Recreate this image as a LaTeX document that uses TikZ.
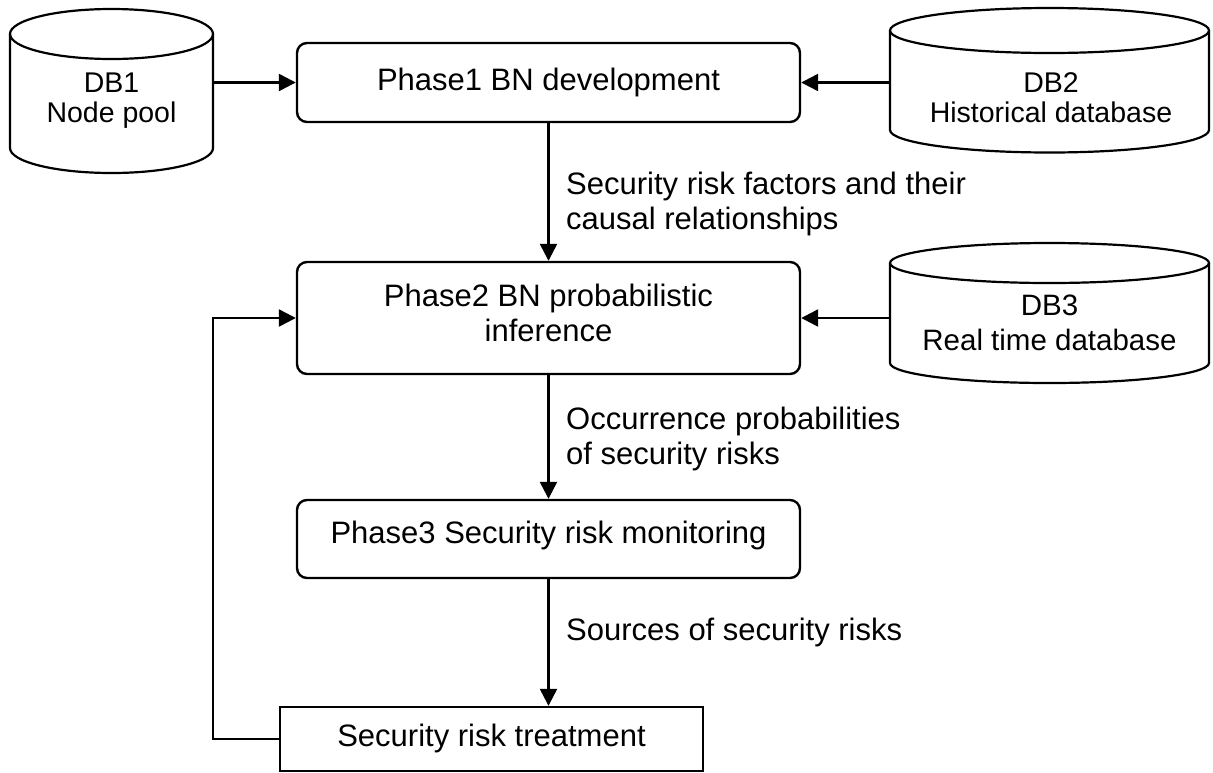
\documentclass[tikz,border=0pt]{standalone}
\usepackage{fontspec}
\setmainfont{Liberation Sans}
\usetikzlibrary{arrows.meta}
\begin{document}
\begin{tikzpicture}[x=1pt,y=1pt,
  phasebox/.style={draw, line width=2.4pt, rounded corners=10pt, inner sep=0pt},
  plainbox/.style={draw, line width=2.4pt, inner sep=0pt},
  holder/.style={inner sep=0pt},
  txt/.style={font=\fontsize{31}{36}\selectfont, inner sep=0pt},
  dbtxt/.style={font=\fontsize{#1}{34}\selectfont, inner sep=0pt, anchor=base},
  arr/.style={line width=2.4pt, -{Triangle[length=17pt,width=17pt]}},
  cylline/.style={line width=2.2pt}]
% canvas
\fill[white] (0,0) rectangle (1213,-772);
\useasboundingbox (0,0) rectangle (1213,-772);

% database cylinders: side walls with lower half-ellipse, then the top ellipse
\newcommand{\dbcyl}[5]{% cx, top-centre y, bottom-centre y, rx, ry
  \draw[cylline] ({#1-#4},{-#2}) -- ({#1-#4},{-#3})
     arc[start angle=180, end angle=360, x radius=#4pt, y radius=#5pt]
     -- ({#1+#4},{-#2});
  \draw[cylline] (#1,-#2) ellipse [x radius=#4pt, y radius=#5pt];}
\dbcyl{111.5}{34}{148}{101.5}{25}
\dbcyl{1049.5}{30.5}{130}{159.5}{22.5}
\dbcyl{1049.5}{263}{363}{159.5}{20}

% cylinder footprints used as connector ends
\node[holder, minimum width=203pt, minimum height=164pt] (db1) at (111.5,-90) {};
\node[holder, minimum width=319pt, minimum height=145pt] (db2) at (1049.5,-80.5) {};
\node[holder, minimum width=319pt, minimum height=140pt] (db3) at (1049.5,-313) {};

% cylinder texts
\node[dbtxt=28.5] (db1a) at (111.5,-92) {DB1};
\node[dbtxt=28.5] (db1b) at (111.5,-122) {Node pool};
\node[dbtxt=28.5] (db2a) at (1051,-92) {DB2};
\node[dbtxt=28.5] (db2b) at (1051,-122) {Historical database};
\node[dbtxt=29.5] (db3a) at (1049.5,-315) {DB3};
\node[dbtxt=29.5] (db3b) at (1049.5,-350) {Real time database};

% phase boxes
\node[phasebox, minimum width=503pt, minimum height=79pt] (p1) at (548.5,-82.5) {};
\node[phasebox, minimum width=503pt, minimum height=112pt] (p2) at (548.5,-318) {};
\node[phasebox, minimum width=503pt, minimum height=78pt] (p3) at (548.5,-539) {};
\node[plainbox, minimum width=423pt, minimum height=64pt] (tr) at (491.5,-739) {};

\node[txt, anchor=base] (p1t) at (548.5,-90) {Phase1 BN development};
\node[txt, anchor=base] (p2t) at (548.5,-306) {Phase2 BN probabilistic};
\node[txt, anchor=base] (p2u) at (548.5,-341) {inference};
\node[txt, anchor=base] (p3t) at (548.5,-543) {Phase3 Security risk monitoring};
\node[txt, anchor=base] (trt) at (491.5,-746) {Security risk treatment};

% connector labels
\node[txt, anchor=base west] (l1a) at (566,-194) {Security risk factors and their};
\node[txt, anchor=base west] (l1b) at (566,-229) {causal relationships};
\node[txt, anchor=base west] (l2a) at (566,-429) {Occurrence probabilities};
\node[txt, anchor=base west] (l2b) at (566,-464) {of security risks};
\node[txt, anchor=base west] (l3a) at (566,-640) {Sources of security risks};

% connectors
\draw[arr] (p1.west -| db1.east) -- (p1.west);
\draw[arr] (p1.east -| db2.west) -- (p1.east);
\draw[arr] (p2.east -| db3.west) -- (p2.east);
\draw[arr] (p1.south) -- (p2.north);
\draw[arr] (p2.south) -- (p3.north);
\draw[arr] (p3.south) -- (p3.south |- tr.north);
\coordinate (loop) at (213,0);
\draw[arr] (tr.west) -| (loop |- p2.west) -- (p2.west);
\end{tikzpicture}
\end{document}
